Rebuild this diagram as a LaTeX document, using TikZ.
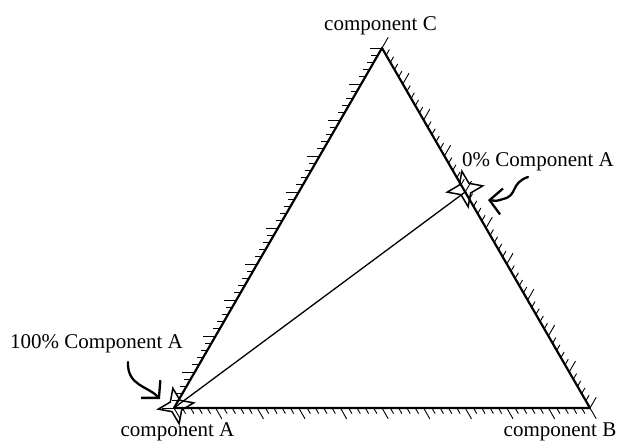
\documentclass[tikz,border=0pt]{standalone}
\usepackage{fontspec}
\setmainfont{Liberation Serif}
\usetikzlibrary{calc,shapes.geometric,arrows.meta}
\tikzset{
  side/.style={line width=2.2pt,line cap=round,line join=round},
  tickmark/.style={line width=0.9pt},
  joinline/.style={line width=1.3pt},
  starmark/.style={star,star points=4,star point ratio=2.6,minimum size=36pt,inner sep=0pt,draw,line width=1.5pt,rotate=10},
  pointer/.style={line width=2.3pt,line cap=round,-{Straight Barb[length=12pt,width=26pt,line width=2.3pt]}},
  lab/.style={font=\fontsize{21}{24}\selectfont,anchor=base,inner sep=0pt}
}
\begin{document}
\begin{tikzpicture}[x=1pt,y=-1pt]
\useasboundingbox (0,0) rectangle (622,441);
\coordinate (A) at (174,408);
\coordinate (B) at (590,408);
\coordinate (C) at (382,48);
\coordinate (P) at ($(C)!0.4!(B)$);
% ticks
\foreach \i in {0,...,50}{
  \pgfmathsetmacro\len{ifthenelse(mod(\i,5)==0,12.5,6.5)}
  \draw[tickmark] ($(A)!\i/50!(C)$) -- ++(-\len,0);
  \draw[tickmark] ($(A)!\i/50!(B)$) -- ++({0.5*\len},{0.866*\len});
  \draw[tickmark] ($(C)!\i/50!(B)$) -- ++({0.5*\len},{-0.866*\len});
}
\draw[side] (A) -- (B) -- (C) -- cycle;
\draw[joinline] (A) -- (P);
\node[starmark] (starA) at (176,406) {};
\node[starmark] (starP) at (465,189) {};
% labels
\node[lab] (labC) at (380.5,31) {component C};
\node[lab] (labA) at (177.5,436) {component A};
\node[lab] (labB) at (560,436) {component B};
\node[lab,anchor=base west] (lab0) at (462,167) {0\% Component A};
\node[lab,anchor=base west] (lab100) at (10,348) {100\% Component A};
% pointers
\coordinate (pA0) at (128,362);
\coordinate (pA1) at (160,399);
\coordinate (pP0) at (528,177);
\coordinate (pP1) at (488,200);
\draw[pointer] (pA0) .. controls (127,386) and (148,386) .. (pA1);
\draw[pointer] (pP0) .. controls (510,183) and (518,196) .. (503,199) .. controls (497,201) .. (pP1);
\end{tikzpicture}
\end{document}
